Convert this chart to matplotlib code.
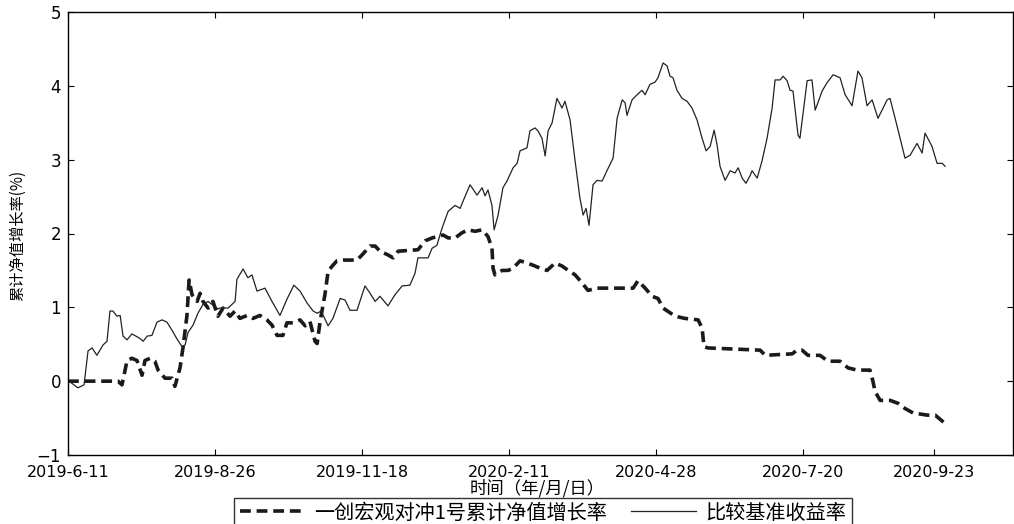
import matplotlib
matplotlib.use("Agg")
import matplotlib.pyplot as plt

plt.rcParams['font.family'] = ['DejaVu Sans', 'Noto Sans CJK SC']
cjk = ['Noto Sans CJK SC', 'DejaVu Sans']

# trading-day index on the x axis
tick_pos = [0, 55, 110, 165, 220, 275, 324]
tick_lab = ['2019-6-11', '2019-8-26', '2019-11-18', '2020-2-11',
            '2020-4-28', '2020-7-20', '2020-9-23']

# fund: cumulative NAV growth (%)
fund_x = [0, 18.7, 20.2, 22.1, 23.9, 25.8, 27.7, 28.8, 30.7, 32.5, 33.7, 36.3,
          38.9, 40.0, 41.9, 43.0, 44.5, 45.3, 46.4, 48.3, 49.4, 50.5, 52.4,
          54.2, 56.1, 58.0, 60.6, 62.5, 64.3, 67.0, 69.2, 71.8, 74.4, 76.3,
          78.2, 80.4, 81.9, 84.2, 86.8, 88.7, 90.5, 92.4, 93.2, 94.3, 96.1,
          97.3, 99.1, 100.6, 102.9, 108.1, 110.0, 113.0, 114.9, 116.7, 119.7,
          121.6, 123.5, 130.9, 133.6, 136.2, 140.3, 142.2, 144.8, 147.4, 149.6,
          152.3, 154.9, 157.1, 158.6, 159.0, 159.7, 162.4, 164.6, 166.5, 169.1,
          171.7, 174.0, 176.6, 179.2, 182.2, 184.8, 187.1, 189.7, 192.3, 194.5,
          197.9, 209.1, 211.4, 213.2, 215.9, 218.5, 220.7, 222.6, 227.1, 230.8,
          235.7, 237.2, 237.9, 239.4, 258.9, 260.8, 270.9, 272.7, 274.6, 276.8,
          281.3, 284.3, 288.8, 291.8, 295.2, 300.0, 301.1, 301.9, 303.8, 307.5,
          310.5, 313.1, 316.1, 321.4, 324.4, 327.0, 328.1]
fund_y = [0.0, 0.0, -0.05, 0.28, 0.31, 0.28, 0.08, 0.28, 0.31, 0.27, 0.15, 0.04,
          0.04, -0.07, 0.18, 0.45, 0.89, 1.37, 1.17, 1.08, 1.19, 1.08, 0.99,
          1.08, 0.88, 0.99, 0.88, 0.95, 0.85, 0.89, 0.85, 0.89, 0.83, 0.76,
          0.62, 0.62, 0.79, 0.79, 0.83, 0.75, 0.81, 0.54, 0.51, 0.81, 1.17,
          1.49, 1.57, 1.63, 1.64, 1.64, 1.71, 1.83, 1.83, 1.76, 1.71,
          1.67, 1.76, 1.78, 1.90, 1.94, 1.98, 1.94, 1.94, 2.01, 2.05,
          2.03, 2.05, 1.96, 1.80, 1.53, 1.44, 1.50, 1.50, 1.53, 1.63,
          1.60, 1.57, 1.53, 1.50, 1.60, 1.56, 1.50, 1.44, 1.33, 1.23,
          1.26, 1.26, 1.26, 1.36, 1.26, 1.15, 1.12, 0.99, 0.88, 0.85,
          0.83, 0.72, 0.47, 0.45, 0.42, 0.35, 0.37, 0.42, 0.42, 0.35,
          0.35, 0.27, 0.27, 0.18, 0.15, 0.15, 0.0, -0.14, -0.26, -0.26,
          -0.30, -0.37, -0.43, -0.46, -0.46, -0.54, -0.57]

# benchmark return (%)
bench_x = [0, 3.7, 6.0, 7.5, 9.0, 10.8, 13.1, 14.6, 15.7, 16.8, 18.3, 19.5,
           20.6, 22.1, 23.9, 25.4, 26.9, 28.1, 29.6, 31.4, 33.3, 35.2, 37.0,
           38.9, 40.8, 42.6, 43.8, 44.9, 46.8, 48.6, 50.5, 52.4, 54.2, 56.1,
           56.9, 59.9, 62.5, 63.2, 65.5, 67.3, 68.8, 70.7, 73.7, 76.3, 79.3,
           81.9, 84.5, 86.8, 89.4, 91.7, 93.2, 94.7, 97.3, 99.1, 101.8, 103.6,
           105.5, 108.1, 111.1, 113.0, 114.9, 116.7, 119.7, 122.3, 125.0,
           127.9, 129.8, 130.9, 132.4, 134.7, 136.2, 138.0, 139.9, 142.2,
           144.8, 146.7, 147.8, 150.4, 153.0, 154.9, 156.0, 157.1, 158.6,
           159.4, 160.9, 162.7, 164.2, 166.5, 168.0, 169.1, 171.7, 172.8,
           174.7, 175.8, 177.3, 178.5, 179.6, 181.1, 182.2, 182.9, 184.8,
           185.9, 187.8, 189.7, 191.5, 192.7, 193.8, 194.9, 196.4, 197.9,
           199.8, 201.6, 203.9, 205.4, 207.3, 208.4, 209.1, 211.0, 212.9,
           214.7, 215.9, 217.7, 219.6, 220.7, 222.6, 224.1, 225.2, 226.3,
           227.8, 229.7, 231.6, 233.4, 235.3, 237.2, 238.7, 240.2, 241.7,
           242.8, 243.9, 245.8, 247.7, 249.5, 250.7, 252.2, 253.6, 255.1,
           255.9, 257.8, 259.6, 261.5, 263.4, 264.5, 266.4, 267.5, 269.0,
           270.1, 271.2, 273.1, 273.8, 276.5, 278.3, 279.5, 282.1, 283.9,
           286.2, 288.8, 290.7, 293.3, 295.5, 297.0, 298.9, 300.8, 303.0,
           306.4, 307.5, 310.1, 312.0, 313.1, 315.0, 317.6, 319.5, 320.6,
           323.2, 325.1, 327.0, 328.1]
bench_y = [0.01, -0.09, -0.05, 0.41, 0.45, 0.35, 0.49, 0.54, 0.95, 0.95, 0.88,
           0.89, 0.61, 0.56, 0.64, 0.61, 0.58, 0.54, 0.61, 0.62, 0.80, 0.83,
           0.80, 0.69, 0.57, 0.47, 0.49, 0.66, 0.76, 0.92, 1.04, 1.08, 1.03,
           0.98, 0.99, 0.99, 1.08, 1.38, 1.52, 1.40, 1.44, 1.22, 1.26, 1.08,
           0.89, 1.11, 1.30, 1.22, 1.06, 0.95, 0.92, 0.95, 0.75, 0.85, 1.12,
           1.10, 0.96, 0.96, 1.29, 1.19, 1.08, 1.15, 1.02, 1.17, 1.29, 1.30,
           1.46, 1.67, 1.67, 1.67, 1.80, 1.84, 2.07, 2.30, 2.38, 2.34, 2.44,
           2.66, 2.52, 2.62, 2.51, 2.59, 2.38, 2.05, 2.25, 2.62, 2.71, 2.89,
           2.95, 3.12, 3.16, 3.39, 3.43, 3.39, 3.29, 3.05, 3.39, 3.50, 3.70,
           3.83, 3.70, 3.79, 3.54, 2.98, 2.48, 2.25, 2.34, 2.11, 2.66, 2.72,
           2.71, 2.85, 3.02, 3.56, 3.81, 3.77, 3.60, 3.81, 3.88, 3.94, 3.88,
           4.02, 4.05, 4.11, 4.31, 4.27, 4.13, 4.11, 3.94, 3.83, 3.79, 3.70,
           3.54, 3.29, 3.12, 3.18, 3.40, 3.20, 2.91, 2.72, 2.85, 2.82, 2.89,
           2.75, 2.68, 2.78, 2.85, 2.75, 2.98, 3.29, 3.70, 4.08, 4.08, 4.13,
           4.07, 3.94, 3.93, 3.33, 3.29, 4.07, 4.08, 3.67, 3.93, 4.04, 4.15,
           4.11, 3.88, 3.73, 4.20, 4.11, 3.73, 3.81, 3.56, 3.81, 3.83, 3.46,
           3.18, 3.02, 3.06, 3.22, 3.09, 3.36, 3.18, 2.95, 2.95, 2.91]

fig = plt.figure(figsize=(10.14, 5.24), dpi=100)
ax = fig.add_axes([68 / 1014, 69 / 524, 945 / 1014, 443 / 524])

ax.plot(fund_x, fund_y, color='#1a1a1a', lw=2.6, dashes=(3, 1.6),
        label='一创宏观对冲1号累计净值增长率')
ax.plot(bench_x, bench_y, color='#222222', lw=0.9, label='比较基准收益率')

ax.set_xlim(0, 353.5)
ax.set_ylim(-1, 5)
ax.set_xticks(tick_pos)
ax.set_xticklabels(tick_lab)
ax.set_yticks(range(-1, 6))
ax.tick_params(direction='in', length=4, width=0.8, top=True, right=True,
               labelsize=11.5)
ax.tick_params(axis='x', pad=7)
ax.tick_params(axis='y', pad=5, labelsize=12)
for s in ax.spines.values():
    s.set_linewidth(1.0)

fig.text(18 / 1014, 1 - 235 / 524, '累计净值增长率(%)', rotation=90,
         ha='center', va='center', fontsize=11, family=cjk)
fig.text(537 / 1014, 1 - 488.5 / 524, '时间（年/月/日）', ha='center',
         va='center', fontsize=12.5, family=cjk)

fig.legend(loc='upper center', bbox_to_anchor=(543 / 1014, 1 - 497.5 / 524),
           ncol=2, frameon=True, fancybox=False, edgecolor='black',
           prop={'family': cjk, 'size': 14.5}, handlelength=3.2,
           columnspacing=1.2, handletextpad=0.5, borderpad=0.25,
           borderaxespad=0)

fig.savefig('out.png', dpi=100, facecolor='white')
